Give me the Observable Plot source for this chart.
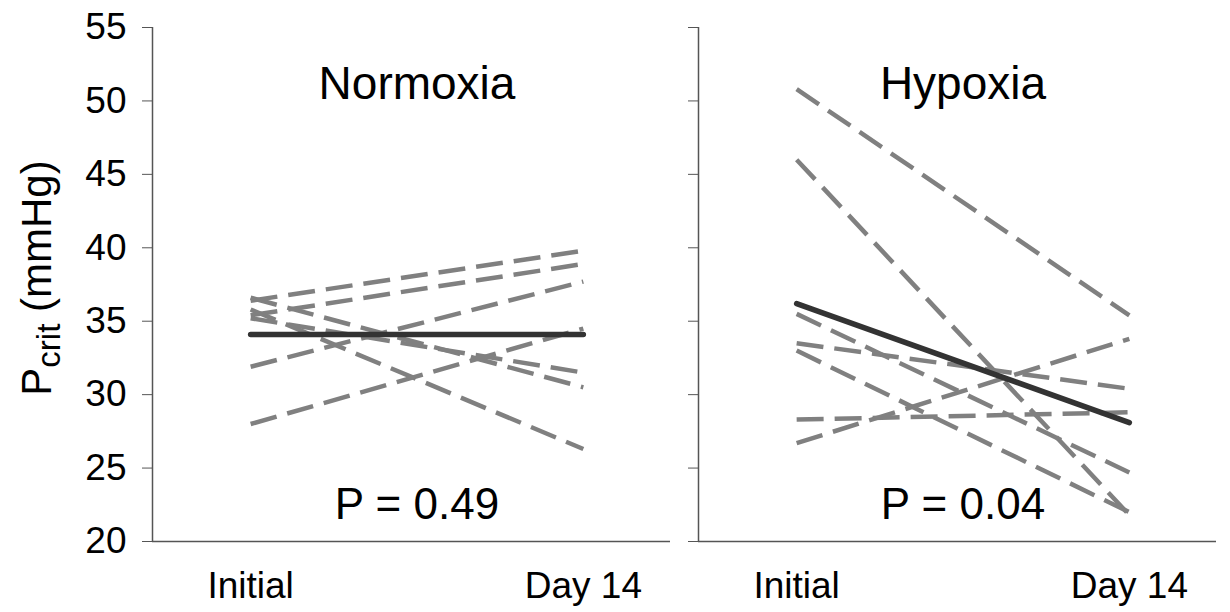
<!DOCTYPE html>
<html>
<head>
<meta charset="utf-8">
<script src="https://cdn.jsdelivr.net/npm/d3@7"></script>
<script src="https://cdn.jsdelivr.net/npm/@observablehq/plot@0.6"></script>
<style>
  body { margin: 0; background: #fff; }
  #wrap { position: relative; width: 1230px; height: 612px; font-family: "Liberation Sans", Arial, sans-serif; }
  #wrap svg { position: absolute; top: 0; }
</style>
</head>
<body>
<div id="wrap"></div>
<script>
// ---- data ----
const timepoints = ["Initial", "Day 14"];
const yTicks = [20, 25, 30, 35, 40, 45, 50, 55];
const panels = ["Normoxia", "Hypoxia"];
const pValues = ["P = 0.49", "P = 0.04"];

const normInitial = [36.6, 36.4, 35.8, 35.4, 35.2, 31.9, 28.0];
const normDay14   = [30.5, 39.8, 26.3, 38.9, 31.5, 37.7, 34.5];
const normMean    = [34.1, 34.1];

const hypInitial = [50.8, 46.0, 35.5, 33.5, 33.0, 28.3, 26.7];
const hypDay14   = [35.4, 21.8, 24.7, 30.4, 22.0, 28.8, 33.8];
const hypMean    = [36.2, 28.1];

// ---- helpers ----
function individuals(init, day14) {
  const rows = [];
  init.forEach((v, i) => {
    rows.push({id: i, t: 0, v});
    rows.push({id: i, t: 1, v: day14[i]});
  });
  return rows;
}
function meanRows(m) { return m.map((v, t) => ({t, v})); }

const font = "'Liberation Sans', Arial, sans-serif";
const xDomain = [-0.295, 1.262];

function panel(idx, init, day14, mean, opts) {
  return Plot.plot({
    width: opts.width,
    height: 612,
    marginLeft: opts.marginLeft,
    marginRight: opts.marginRight,
    marginTop: 27,
    marginBottom: 71,
    style: {fontFamily: font, fontSize: "37px", color: "#000", background: "transparent", overflow: "visible"},
    x: {type: "linear", domain: xDomain},
    y: {domain: [20, 55]},
    marks: [
      Plot.axisY({ticks: yTicks, tickSize: 10, tickPadding: 16, label: null,
        tickFormat: opts.labels ? d => String(d) : () => "", stroke: "#555", fontSize: 37}),
      Plot.axisX({ticks: [0, 1], tickSize: 0, tickPadding: 30, label: null,
        tickFormat: d => timepoints[d], fontSize: 37}),
      Plot.ruleY([20], {stroke: "#555", strokeWidth: 1.5}),
      Plot.ruleX([xDomain[0]], {stroke: "#555", strokeWidth: 1.5}),
      Plot.line(individuals(init, day14), {x: "t", y: "v", z: "id",
        stroke: "#808080", strokeWidth: 4.5, strokeDasharray: "27,11", strokeLinecap: "butt"}),
      Plot.line(meanRows(mean), {x: "t", y: "v", stroke: "#333", strokeWidth: 5.5, strokeLinecap: "round"}),
      Plot.text([panels[idx]], {x: 0.5, frameAnchor: "top", dy: 39, text: d => d,
        fontSize: 46, fill: "#000"}),
      Plot.text([pValues[idx]], {x: 0.5, frameAnchor: "bottom", dy: -23, text: d => d,
        fontSize: 44, fill: "#000"})
    ]
  });
}

const wrap = document.getElementById("wrap");
const left = panel(0, normInitial, normDay14, normMean, {width: 676, marginLeft: 152, marginRight: 6, labels: true});
left.style.left = "0px";
wrap.appendChild(left);

const right = panel(1, hypInitial, hypDay14, hypMean, {width: 554, marginLeft: 22, marginRight: 14, labels: false});
right.style.left = "676px";
wrap.appendChild(right);

// y-axis title with subscript
const svg = d3.select(left);
const t = svg.append("text")
  .attr("transform", "translate(51,278) rotate(-90)")
  .attr("text-anchor", "middle")
  .attr("font-family", font)
  .attr("font-size", 42)
  .attr("fill", "#000");
t.append("tspan").text("P");
t.append("tspan").attr("font-size", 33).attr("dy", 9).text("crit");
t.append("tspan").attr("dy", -9).text(" (mmHg)");
</script>
</body>
</html>
